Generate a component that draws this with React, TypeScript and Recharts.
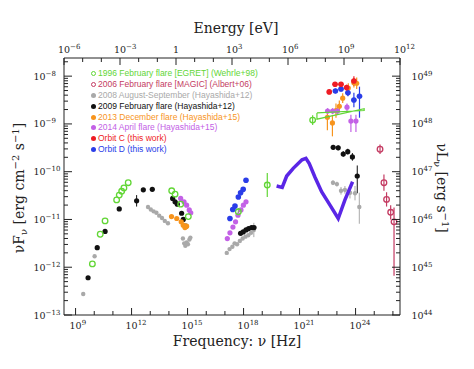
import React from 'react';
import { ScatterChart, Scatter, XAxis, YAxis, ErrorBar, Legend, Label } from 'recharts';

// ---------- axes (all values in log10) ----------
const NU_MIN = 8.38; // log10(nu/Hz) at 1e-6 eV
const NU_MAX = NU_MIN + 18; // 1e12 eV
const F_MIN = -13;
const F_MAX = -7.62;
const LUM_OFFSET = 57; // log10(nuL_nu) - log10(nuF_nu)

const freqTicks = [9, 10, 11, 12, 13, 14, 15, 16, 17, 18, 19, 20, 21, 22, 23, 24, 25, 26];
const energyExps = [-6, -5, -4, -3, -2, -1, 0, 1, 2, 3, 4, 5, 6, 7, 8, 9, 10, 11, 12];
const fluxDecades = [-13, -12, -11, -10, -9, -8];
const minorMultipliers = [1, 2, 3, 4, 5, 6, 7, 8, 9];

// ---------- data: x = log10 nu [Hz], y = log10 nuF_nu [erg cm^-2 s^-1] ----------
type Pt = { x: number; y: number; ey?: number | number[]; ex?: number };

const flare1996: Pt[] = [
  { x: 9.9, y: -11.93 }, { x: 10.32, y: -11.31 }, { x: 10.58, y: -11.03 }, { x: 11.2, y: -10.59 },
  { x: 11.34, y: -10.49 }, { x: 11.47, y: -10.41 }, { x: 11.59, y: -10.34 }, { x: 11.82, y: -10.23 },
  { x: 14.15, y: -10.4 }, { x: 14.33, y: -10.47 }, { x: 14.63, y: -10.68 }, { x: 15.04, y: -10.94 },
  { x: 17.72, y: -10.84, ey: 0.08 }, { x: 19.27, y: -10.28, ey: 0.25 }, { x: 21.7, y: -8.92, ey: 0.1 },
];
const bowtie1996: Pt[] = [
  { x: 21.93, y: -8.77 }, { x: 24.46, y: -8.72 }, { x: 24.46, y: -8.68 }, { x: 21.93, y: -8.9 }, { x: 21.93, y: -8.77 },
];
const flare2006: Pt[] = [
  { x: 25.31, y: -9.53, ey: 0.1 }, { x: 25.52, y: -10.23, ey: 0.17 }, { x: 25.66, y: -10.58, ey: 0.15 },
  { x: 25.88, y: -10.85, ey: 0.15 }, { x: 26.06, y: -11.05, ey: [1.13, 0.3] },
];
const obs2008: Pt[] = [
  { x: 9.41, y: -12.56 }, { x: 10.02, y: -11.77 },
  { x: 12.88, y: -10.74 }, { x: 13.03, y: -10.79 }, { x: 13.18, y: -10.83 }, { x: 13.33, y: -10.86 },
  { x: 13.48, y: -10.92 }, { x: 13.63, y: -10.97 }, { x: 13.78, y: -11.03 }, { x: 13.95, y: -11.08 },
  { x: 14.75, y: -11.4 }, { x: 14.82, y: -11.5 }, { x: 14.88, y: -11.55 }, { x: 14.95, y: -11.48 },
  { x: 15.02, y: -11.52 }, { x: 15.1, y: -11.42 }, { x: 15.15, y: -11.38 },
  { x: 17.1, y: -11.7 }, { x: 17.25, y: -11.62 }, { x: 17.4, y: -11.57 }, { x: 17.52, y: -11.5 },
  { x: 17.65, y: -11.52 }, { x: 17.8, y: -11.45 }, { x: 17.95, y: -11.4 }, { x: 18.1, y: -11.36 },
  { x: 18.25, y: -11.33 }, { x: 18.4, y: -11.28 }, { x: 18.55, y: -11.22, ey: 0.15 },
  { x: 22.79, y: -10.23, ey: 0.05 }, { x: 23.0, y: -10.26, ey: 0.05 }, { x: 23.22, y: -10.4, ey: 0.08 },
  { x: 23.43, y: -10.38, ey: 0.08 }, { x: 23.7, y: -10.44, ey: 0.12 }, { x: 23.97, y: -10.45, ey: 0.15 },
  { x: 24.2, y: -10.74, ey: [0.35, 0.3] },
];
const flare2009: Pt[] = [
  { x: 9.67, y: -12.22 }, { x: 10.16, y: -11.59 }, { x: 10.58, y: -11.25 }, { x: 11.34, y: -10.78 },
  { x: 12.27, y: -10.61, ey: 0.12 }, { x: 12.63, y: -10.38 }, { x: 13.11, y: -10.37 },
  { x: 14.2, y: -10.56 }, { x: 14.33, y: -10.63 }, { x: 14.45, y: -10.68 }, { x: 14.68, y: -10.87 },
  { x: 14.77, y: -11.0 }, { x: 14.91, y: -11.14 },
  { x: 17.84, y: -11.29 }, { x: 17.98, y: -11.26 }, { x: 18.13, y: -11.22 }, { x: 18.27, y: -11.19 },
  { x: 18.43, y: -11.17 }, { x: 18.56, y: -11.17 },
  { x: 22.8, y: -9.49, ey: 0.05 }, { x: 23.07, y: -9.5, ey: 0.05 }, { x: 23.34, y: -9.63, ey: 0.06 },
  { x: 23.58, y: -9.58, ey: 0.06 }, { x: 23.83, y: -9.69, ey: 0.08 }, { x: 24.09, y: -10.09, ey: [0.36, 0.22] },
];
const flare2013: Pt[] = [
  { x: 14.14, y: -10.94 }, { x: 14.42, y: -10.98 }, { x: 14.66, y: -11.05 }, { x: 14.77, y: -11.12 },
  { x: 14.86, y: -11.17 }, { x: 14.95, y: -11.14 },
  { x: 22.49, y: -8.86, ey: [0.27, 0.12] }, { x: 22.76, y: -8.98, ey: [0.28, 0.17] },
  { x: 22.95, y: -8.72, ey: 0.15 }, { x: 23.13, y: -8.63, ey: 0.12 }, { x: 23.31, y: -8.46, ey: 0.1 },
  { x: 23.61, y: -8.25, ey: 0.1 }, { x: 23.91, y: -8.14, ey: 0.1 }, { x: 24.06, y: -8.15, ey: 0.12 },
];
const flare2014: Pt[] = [
  { x: 14.63, y: -10.56 }, { x: 14.81, y: -10.63 }, { x: 14.95, y: -10.7 }, { x: 15.09, y: -10.8 }, { x: 15.17, y: -10.86 },
  { x: 17.13, y: -11.4 }, { x: 17.27, y: -11.28 }, { x: 17.43, y: -11.16 }, { x: 17.57, y: -11.05 },
  { x: 17.7, y: -10.91 }, { x: 17.86, y: -10.8 }, { x: 17.99, y: -10.7 }, { x: 18.13, y: -10.63 },
  { x: 22.5, y: -8.73, ey: 0.06 }, { x: 22.77, y: -8.73, ey: 0.06 }, { x: 23.03, y: -8.73, ey: 0.06 },
  { x: 23.54, y: -8.65, ey: 0.08 }, { x: 23.75, y: -8.94, ey: [0.23, 0.13] }, { x: 24.02, y: -8.94, ey: [0.23, 0.13] },
];
const orbitC: Pt[] = [
  { x: 22.59, y: -8.33, ey: 0.05, ex: 0.14 }, { x: 22.9, y: -8.17, ey: 0.05, ex: 0.14 },
  { x: 23.22, y: -8.17, ey: 0.05, ex: 0.14 }, { x: 23.52, y: -8.24, ey: 0.06, ex: 0.14 },
  { x: 23.91, y: -8.1, ey: 0.1, ex: 0.14 },
];
const orbitD: Pt[] = [
  { x: 17.27, y: -10.98 }, { x: 17.42, y: -10.79 }, { x: 17.54, y: -10.72 }, { x: 17.72, y: -10.53 },
  { x: 17.84, y: -10.44 }, { x: 17.98, y: -10.37 }, { x: 18.13, y: -10.18 },
  { x: 22.92, y: -8.31, ey: 0.05, ex: 0.14 }, { x: 23.22, y: -8.27, ey: 0.05, ex: 0.14 },
  { x: 23.59, y: -8.35, ey: 0.07, ex: 0.14 }, { x: 23.91, y: -8.5, ey: 0.15, ex: 0.14 },
  { x: 24.21, y: -8.42, ey: [0.45, 0.2], ex: 0.14 },
];
const modelCurve: Pt[] = [
  { x: 19.77, y: -10.3 }, { x: 20.07, y: -10.33 }, { x: 20.31, y: -10.09 }, { x: 20.66, y: -9.93 },
  { x: 21.13, y: -9.75 }, { x: 21.34, y: -9.72 }, { x: 21.52, y: -9.83 }, { x: 21.82, y: -10.11 },
  { x: 22.18, y: -10.42 }, { x: 22.63, y: -10.7 }, { x: 23.07, y: -10.98 }, { x: 23.43, y: -10.59 },
  { x: 23.84, y: -10.21 },
];

// ---------- legend ----------
const legendLabels = [
  '1996 February flare [EGRET] (Wehrle+98)',
  '2006 February flare [MAGIC] (Albert+06)',
  '2008 August-September (Hayashida+12)',
  '2009 February flare (Hayashida+12)',
  '2013 December flare (Hayashida+15)',
  '2014 April flare (Hayashida+15)',
  'Orbit C (this work)',
  'Orbit D (this work)',
];
const C_GREEN = '#62d636';
const C_CRIMSON = '#c43b62';
const C_GRAY = '#a9a9a9';
const C_BLACK = '#111111';
const C_ORANGE = '#f7941d';
const C_PURPLE = '#c361e6';
const C_RED = '#ee1c24';
const C_BLUE = '#2a3de8';
const C_MODEL = '#5a26e6';
const legendColors = [C_GREEN, C_CRIMSON, C_GRAY, C_BLACK, C_ORANGE, C_PURPLE, C_RED, C_BLUE];
const legendOpen = [true, true, false, false, false, false, false, false];

// ---------- helpers ----------
const SERIF = "'DejaVu Serif', serif";
const SANS = "'Liberation Sans', Arial, sans-serif";
const AX = '#222';
const leftTicks: number[] = [];
fluxDecades.forEach((d) => minorMultipliers.forEach((m) => {
  const v = d + Math.log10(m);
  if (v <= F_MAX + 1e-9) leftTicks.push(v);
}));
const topTicks = energyExps.map((e) => NU_MIN + (e - energyExps[0]));
const isInt = (v: number) => Math.abs(v - Math.round(v)) < 1e-6;
const expStr = (n: number) => (n < 0 ? '\u2212' + Math.abs(n) : String(n));

const Pow = ({ x, y, exp }: { x: number; y: number; exp: number }) => (
  <text x={x} y={y} fontFamily={SERIF} fontSize={9.5} fill={AX}>
    10<tspan dy={-4} fontSize={7}>{expStr(exp)}</tspan>
  </text>
);

const BottomTick = (p: any) => {
  const v = Math.round(p.payload.value);
  const major = v % 3 === 0;
  return (
    <g>
      <line x1={p.x} x2={p.x} y1={p.y} y2={p.y - (major ? 7 : 4)} stroke={AX} />
      {major && <Pow x={p.x - 6} y={p.y + 13.5} exp={v} />}
    </g>
  );
};
const TopTick = (p: any) => {
  const e = Math.round(p.payload.value - NU_MIN) + energyExps[0];
  const major = e % 3 === 0;
  return (
    <g>
      <line x1={p.x} x2={p.x} y1={p.y} y2={p.y + (major ? 7 : 4)} stroke={AX} />
      {major && (e === 0
        ? <text x={p.x} y={p.y - 5} textAnchor="middle" fontFamily={SERIF} fontSize={9.5} fill={AX}>1</text>
        : <Pow x={p.x - 6} y={p.y - 5} exp={e} />)}
    </g>
  );
};
const LeftTick = (p: any) => {
  const v = p.payload.value;
  const major = isInt(v);
  return (
    <g>
      <line x1={p.x} x2={p.x + (major ? 8 : 4)} y1={p.y} y2={p.y} stroke={AX} />
      {major && <Pow x={p.x - 30.5} y={p.y + 3.5} exp={Math.round(v)} />}
    </g>
  );
};
const RightTick = (p: any) => {
  const v = p.payload.value;
  const major = isInt(v);
  return (
    <g>
      <line x1={p.x} x2={p.x - (major ? 8 : 4)} y1={p.y} y2={p.y} stroke={AX} />
      {major && <Pow x={p.x + 11.5} y={p.y + 3.5} exp={Math.round(v) + LUM_OFFSET} />}
    </g>
  );
};

const dot = (color: string, r: number) => (p: any) => <circle cx={p.cx} cy={p.cy} r={r} fill={color} />;
const ring = (color: string, r: number) => (p: any) => (
  <circle cx={p.cx} cy={p.cy} r={r} fill="none" stroke={color} strokeWidth={1.3} />
);
const none = () => <g />;
const withErr = (d: Pt[]) => d.map((q) => ({ ...q, ey: q.ey ?? 0, ex: q.ex ?? 0 }));

const LegendBox = () => (
  <div style={{ fontFamily: SANS, fontSize: 8.5, lineHeight: '10.9px', whiteSpace: 'nowrap' }}>
    {legendLabels.map((l, i) => (
      <div key={l} style={{ color: legendColors[i], display: 'flex', alignItems: 'center', height: 10.9 }}>
        <span style={{
          display: 'inline-block', width: legendOpen[i] ? 3 : 5, height: legendOpen[i] ? 3 : 5, borderRadius: '50%',
          background: legendOpen[i] ? 'transparent' : legendColors[i],
          border: legendOpen[i] ? `1px solid ${legendColors[i]}` : 'none', marginRight: 2.5,
        }} />
        {l}
      </div>
    ))}
  </div>
);

export default function App() {
  return (
    <ScatterChart width={466} height={361} margin={{ top: 0, right: 0, bottom: 0, left: 0 }}>
      <XAxis xAxisId="b" dataKey="x" type="number" orientation="bottom" domain={[NU_MIN, NU_MAX]} allowDataOverflow
        ticks={freqTicks} interval={0} height={54} tickSize={0} tickMargin={0} tickLine={false} tick={BottomTick}
        axisLine={{ stroke: AX }}>
        <Label content={() => (
          <text x={229} y={338} textAnchor="middle" fontFamily={SERIF} fontSize={14} fill={AX}>Frequency: ν [Hz]</text>
        )} />
      </XAxis>
      <XAxis xAxisId="t" dataKey="x" type="number" orientation="top" domain={[NU_MIN, NU_MAX]} allowDataOverflow
        ticks={topTicks} interval={0} height={50} tickSize={0} tickMargin={0} tickLine={false} tick={TopTick}
        axisLine={{ stroke: AX }}>
        <Label content={() => (
          <text x={228} y={25} textAnchor="middle" fontFamily={SERIF} fontSize={14} fill={AX}>Energy [eV]</text>
        )} />
      </XAxis>
      <YAxis yAxisId="l" dataKey="y" type="number" orientation="left" domain={[F_MIN, F_MAX]} allowDataOverflow
        ticks={leftTicks} interval={0} width={56} tickSize={0} tickMargin={0} tickLine={false} tick={LeftTick}
        axisLine={{ stroke: AX }}>
        <Label content={() => (
          <text transform="translate(15.5,180) rotate(-90)" textAnchor="middle" fontFamily={SERIF} fontSize={14} fill={AX}>
            νF<tspan dy={3} fontSize={10}>ν</tspan><tspan dy={-3}> [erg cm</tspan>
            <tspan dy={-5} fontSize={10}>−2</tspan><tspan dy={5}> s</tspan>
            <tspan dy={-5} fontSize={10}>−1</tspan><tspan dy={5}>]</tspan>
          </text>
        )} />
      </YAxis>
      <YAxis yAxisId="r" dataKey="y" type="number" orientation="right" domain={[F_MIN, F_MAX]} allowDataOverflow
        ticks={leftTicks} interval={0} width={74} tickSize={0} tickMargin={0} tickLine={false} tick={RightTick}
        axisLine={{ stroke: AX }}>
        <Label content={() => (
          <text transform="translate(429,180) rotate(90)" textAnchor="middle" fontFamily={SERIF} fontSize={14} fill={AX}>
            νL<tspan dy={3} fontSize={10}>ν</tspan><tspan dy={-3}> [erg s</tspan>
            <tspan dy={-5} fontSize={10}>−1</tspan><tspan dy={5}>]</tspan>
          </text>
        )} />
      </YAxis>

      <Legend layout="vertical" align="center" verticalAlign="middle" content={() => <LegendBox />}
        wrapperStyle={{ position: 'absolute', left: 82.5, top: 60, width: 'auto', height: 'auto' }} />

      <Scatter xAxisId="t" yAxisId="r" data={[{ x: NU_MIN, y: F_MIN }]} shape={none} isAnimationActive={false} legendType="none" />

      <Scatter xAxisId="b" yAxisId="l" data={withErr(obs2008)} shape={dot(C_GRAY, 2.2)} isAnimationActive={false}>
        <ErrorBar dataKey="ey" direction="y" width={0} stroke={C_GRAY} strokeWidth={1} />
      </Scatter>
      <Scatter xAxisId="b" yAxisId="l" data={modelCurve} shape={none} line={{ stroke: C_MODEL, strokeWidth: 3.5 }}
        isAnimationActive={false} />
      <Scatter xAxisId="b" yAxisId="l" data={withErr(flare2009)} shape={dot(C_BLACK, 2.6)} isAnimationActive={false}>
        <ErrorBar dataKey="ey" direction="y" width={0} stroke={C_BLACK} strokeWidth={1} />
      </Scatter>
      <Scatter xAxisId="b" yAxisId="l" data={withErr(flare2013)} shape={dot(C_ORANGE, 2.6)} isAnimationActive={false}>
        <ErrorBar dataKey="ey" direction="y" width={0} stroke={C_ORANGE} strokeWidth={1.2} />
      </Scatter>
      <Scatter xAxisId="b" yAxisId="l" data={withErr(flare2014)} shape={dot(C_PURPLE, 2.6)} isAnimationActive={false}>
        <ErrorBar dataKey="ey" direction="y" width={0} stroke={C_PURPLE} strokeWidth={1.2} />
      </Scatter>
      <Scatter xAxisId="b" yAxisId="l" data={withErr(flare1996)} shape={ring(C_GREEN, 2.8)} isAnimationActive={false}>
        <ErrorBar dataKey="ey" direction="y" width={0} stroke={C_GREEN} strokeWidth={1.2} />
      </Scatter>
      <Scatter xAxisId="b" yAxisId="l" data={bowtie1996} shape={none} line={{ stroke: C_GREEN, strokeWidth: 1.2 }}
        isAnimationActive={false} />
      <Scatter xAxisId="b" yAxisId="l" data={withErr(flare2006)} shape={ring(C_CRIMSON, 2.8)} isAnimationActive={false}>
        <ErrorBar dataKey="ey" direction="y" width={0} stroke={C_CRIMSON} strokeWidth={1.2} />
      </Scatter>
      <Scatter xAxisId="b" yAxisId="l" data={withErr(orbitD)} shape={dot(C_BLUE, 2.8)} isAnimationActive={false}>
        <ErrorBar dataKey="ey" direction="y" width={0} stroke={C_BLUE} strokeWidth={1.2} />
        <ErrorBar dataKey="ex" direction="x" width={0} stroke={C_BLUE} strokeWidth={1.2} />
      </Scatter>
      <Scatter xAxisId="b" yAxisId="l" data={withErr(orbitC)} shape={dot(C_RED, 2.8)} isAnimationActive={false}>
        <ErrorBar dataKey="ey" direction="y" width={0} stroke={C_RED} strokeWidth={1.2} />
        <ErrorBar dataKey="ex" direction="x" width={0} stroke={C_RED} strokeWidth={1.2} />
      </Scatter>
    </ScatterChart>
  );
}
